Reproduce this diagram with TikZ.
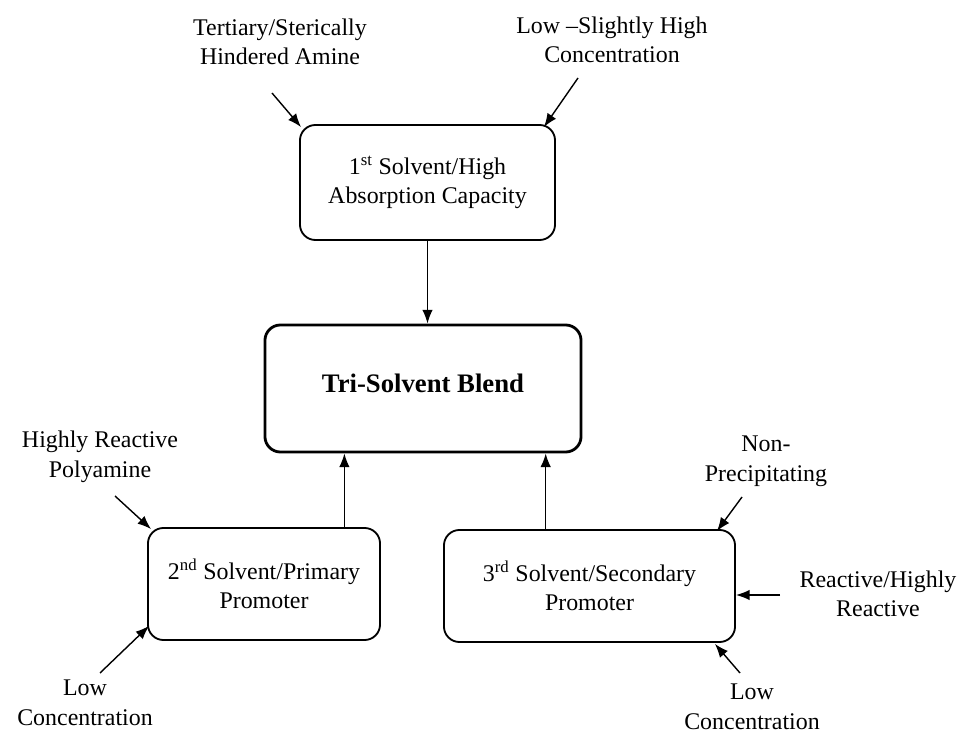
\documentclass[tikz,border=0pt]{standalone}
\usepackage{fontspec}
\setmainfont{Liberation Serif}
\usetikzlibrary{arrows.meta,positioning,calc}
\tikzset{
  caja/.style={rectangle, draw=black, line width=1.3pt, rounded corners=11pt,
               align=center, font=\fontsize{17}{21}\selectfont},
  mezcla/.style={caja, line width=2pt, font=\fontsize{19}{21}\selectfont\bfseries},
  etiqueta/.style={align=center, font=\fontsize{17}{21}\selectfont, inner sep=0pt},
  flecha/.style={-{Latex[length=3.4mm,width=2.6mm]}, line width=1pt}
}
\begin{document}
\begin{tikzpicture}[x=0.025cm, y=-0.025cm]
  \useasboundingbox (0,0) rectangle (968,734);
  % --- Cajas ---
  \node[caja, minimum width=6.375cm, minimum height=2.875cm] (b1) at (427.5,182.5)
       {1\textsuperscript{st} Solvent/High\\Absorption Capacity};
  \node[mezcla, minimum width=7.9cm, minimum height=3.175cm] (tri) at (423,388.5)
       {\raisebox{0.25cm}{Tri-Solvent Blend}};
  \node[caja, minimum width=5.8cm, minimum height=2.8cm] (b2) at (264,584)
       {2\textsuperscript{nd} Solvent/Primary\\Promoter};
  \node[caja, minimum width=7.275cm, minimum height=2.8cm] (b3) at (589.5,586)
       {3\textsuperscript{rd} Solvent/Secondary\\Promoter};

  % --- Etiquetas ---
  \node[etiqueta] (tert)  at (280,42)  {Tertiary/Sterically\\Hindered Amine};
  \node[etiqueta] (conc1) at (612,40)  {Low --Slightly High\\Concentration};
  \node[etiqueta] (poly)  at (100,457) {Highly Reactive\\Polyamine};
  \node[etiqueta] (conc2) at (85,703)  {Low\\Concentration};
  \node[etiqueta] (nonp)  at (766,461) {Non-\\Precipitating};
  \node[etiqueta] (reac)  at (878,594) {Reactive/Highly\\Reactive};
  \node[etiqueta] (conc3) at (752,707) {Low\\Concentration};

  % --- Puntos de partida ---
  \coordinate (pTert)  at (272,93);
  \coordinate (pConc1) at (578,78);
  \coordinate (pPoly)  at (115,496);
  \coordinate (pConc2) at (100,673);
  \coordinate (pNonp)  at (742,497);
  \coordinate (pReac)  at (780,595);
  \coordinate (pConc3) at (740,673);

  % --- Flechas ---
  \draw[flecha] (b1.south) -- (b1.south |- tri.north);
  \draw[flecha] ([xshift=-26]b2.north east) -- ([xshift=-26]b2.north east |- tri.south);
  \draw[flecha] ([xshift=73]b3.north west) -- ([xshift=73]b3.north west |- tri.south);
  \draw[flecha] (pTert)  -- ([shift={(2,3)}]b1.north west);
  \draw[flecha] (pConc1) -- ([shift={(-12,3)}]b1.north east);
  \draw[flecha] (pPoly)  -- ([shift={(4,2)}]b2.north west);
  \draw[flecha] (pConc2) -- ([shift={(2,-15)}]b2.south west);
  \draw[flecha] (pNonp)  -- ([shift={(-19,2)}]b3.north east);
  \draw[flecha] (pReac)  -- (pReac -| b3.east);
  \draw[flecha] (pConc3) -- ([shift={(-21,1)}]b3.south east);
\end{tikzpicture}
\end{document}
